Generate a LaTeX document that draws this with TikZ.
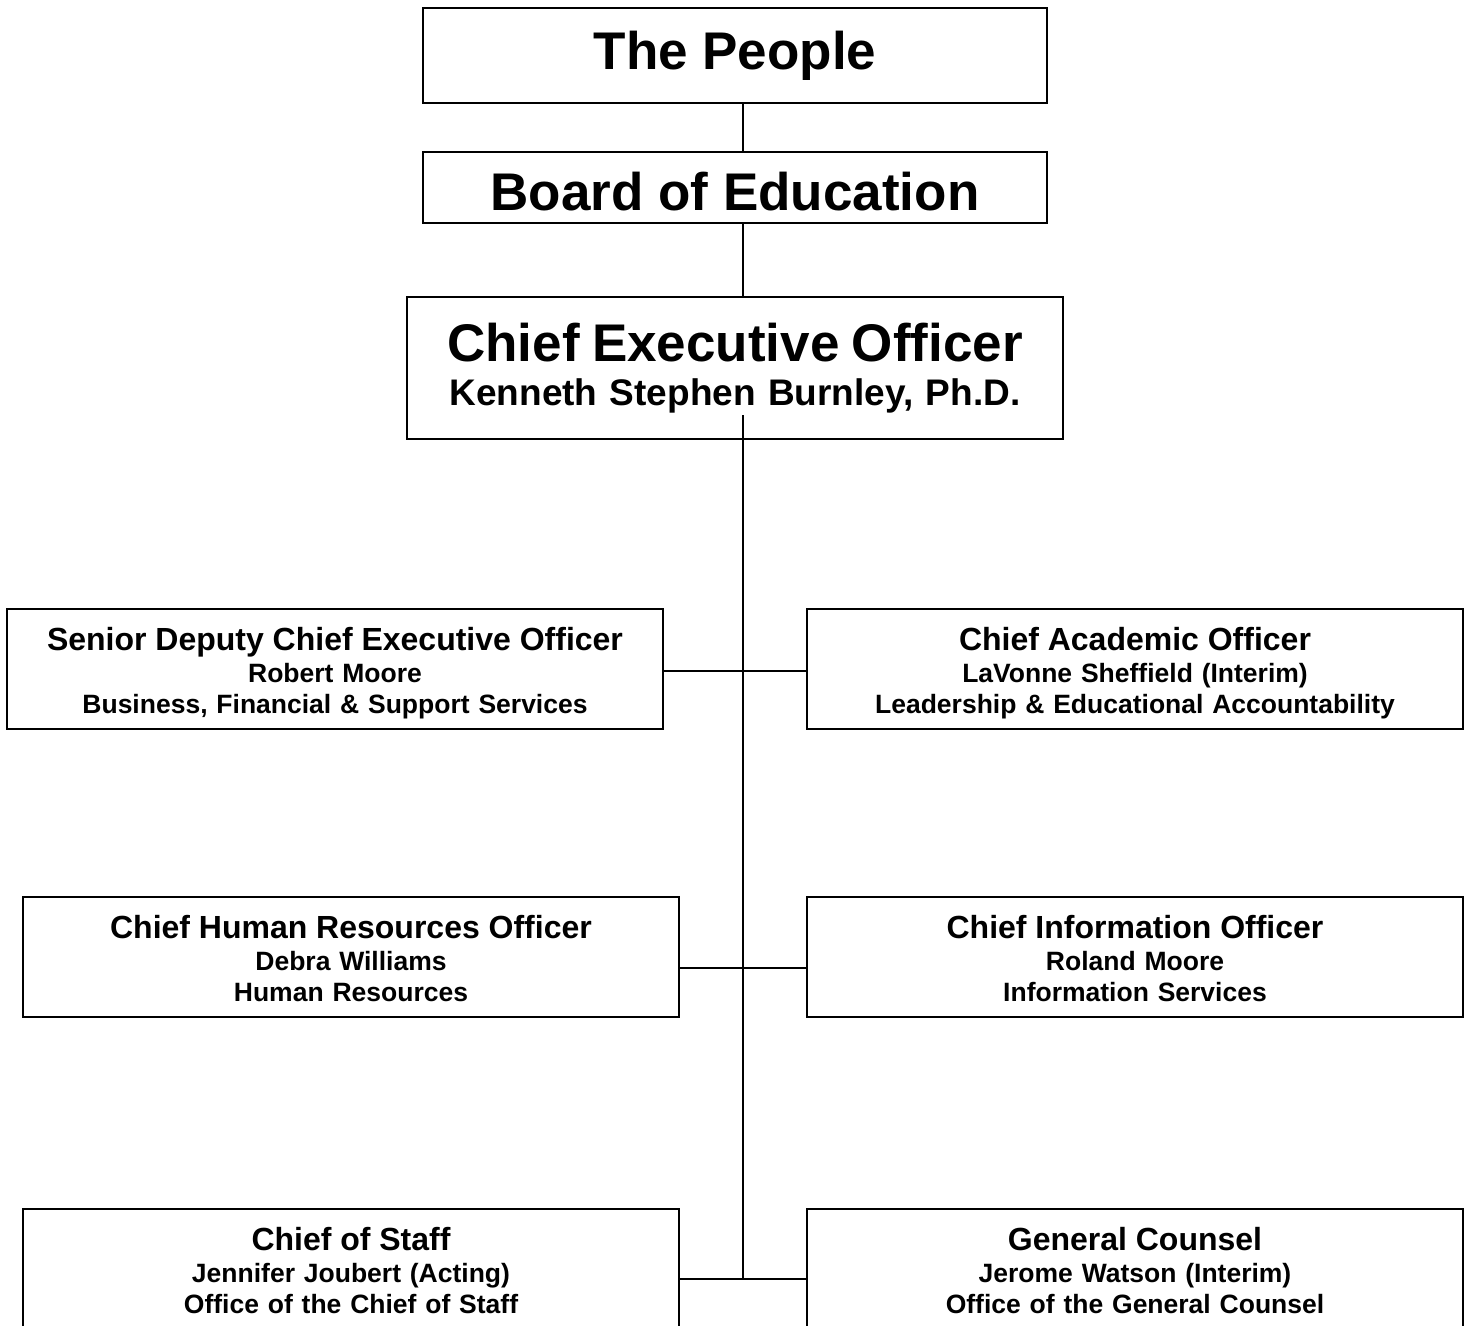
\documentclass[tikz,border=0pt]{standalone}
\usepackage{fontspec}
\setmainfont{Liberation Sans}
\usetikzlibrary{positioning}
\usetikzlibrary{calc}
\tikzset{headbox/.style={rectangle, draw, line width=1.8pt, inner sep=0pt, minimum width=624pt, font=\fontsize{53}{60}\selectfont\bfseries}}
\tikzset{chiefbox/.style={rectangle, draw, line width=1.8pt, inner sep=0pt, minimum width=656pt, minimum height=142pt, text width=640pt, execute at begin node=\centering, font=\fontsize{37}{44}\selectfont\bfseries}}
\tikzset{officebox/.style={rectangle, draw, line width=1.8pt, inner sep=0pt, minimum width=656pt, minimum height=120pt, text width=640pt, execute at begin node=\centering, text height=24pt, text depth=61pt, font=\fontsize{26.5}{31.5}\selectfont\bfseries}}
\tikzset{link/.style={line width=1.8pt}}
\newcommand{\officetitle}[1]{{\fontsize{32}{31.5}\selectfont #1}}

\begin{document}
\begin{tikzpicture}[x=1pt, y=-1pt]

    \clip (0,0) rectangle (1469,1325);

    % Top of the chart.
    \node [headbox, minimum height=95pt] (people) at (735,55.5) {The People};
    \node [headbox, minimum height=71pt, text height=47pt] (board) at (735,187.5) {Board of Education};
    \node [chiefbox] (ceo) at (735,368) {{\fontsize{53}{44}\selectfont Chief Executive Officer}\\ Kenneth Stephen Burnley, Ph.D.};

    % First row.
    \node [officebox] (sdceo) at (335,669) {\officetitle{Senior Deputy Chief Executive Officer}\\ Robert Moore\\ Business, Financial \& Support Services};
    \node [officebox] (cao) at (1135,669) {\officetitle{Chief Academic Officer}\\ LaVonne Sheffield (Interim)\\ Leadership \& Educational Accountability};

    % Second row.
    \node [officebox] (chro) at (351,957) {\officetitle{Chief Human Resources Officer}\\ Debra Williams\\ Human Resources};
    \node [officebox] (cio) at (1135,957) {\officetitle{Chief Information Officer}\\ Roland Moore\\ Information Services};

    % Third row.
    \node [officebox] (cos) at (351,1269) {\officetitle{Chief of Staff}\\ Jennifer Joubert (Acting)\\ Office of the Chief of Staff};
    \node [officebox] (gc) at (1135,1269) {\officetitle{General Counsel}\\ Jerome Watson (Interim)\\ Office of the General Counsel};

    % Coordinates for the trunk.
    \coordinate (trunktop) at (743,415);
    \coordinate (trunkbot) at (743,1279);
    \coordinate (row1) at (743,671);
    \coordinate (row2) at (743,968);

    % Vertical lines.
    \draw [link] (people.south -| trunktop) -- (board.north -| trunktop);
    \draw [link] (board.south -| trunktop) -- (ceo.north -| trunktop);
    \draw [link] (trunktop) -- (trunkbot);

    % Lines between the rows of offices.
    \draw [link] (sdceo.east |- row1) -- (cao.west |- row1);
    \draw [link] (chro.east |- row2) -- (cio.west |- row2);
    \draw [link] (cos.east |- trunkbot) -- (gc.west |- trunkbot);

\end{tikzpicture}
\end{document}
